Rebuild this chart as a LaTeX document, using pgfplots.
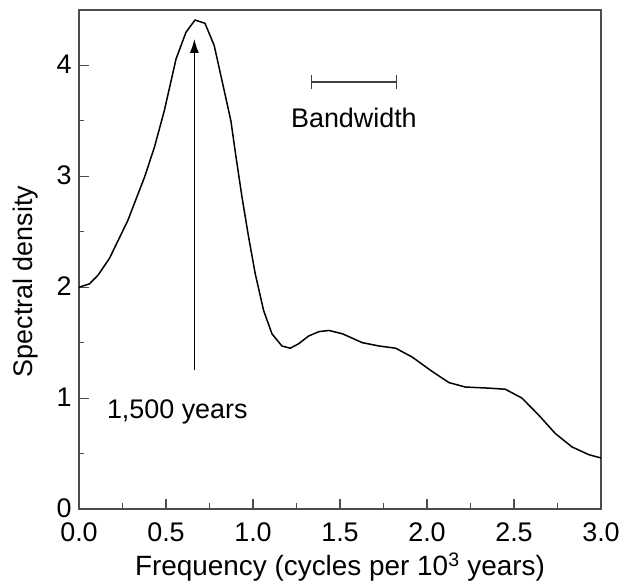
\documentclass[border=0pt]{standalone}
\usepackage{fontspec}
\setmainfont{Liberation Sans}
\usepackage{pgfplots}
\pgfplotsset{compat=1.18}
\usetikzlibrary{arrows.meta}
\begin{document}
\begin{tikzpicture}
\begin{axis}[
  scale only axis,
  width=522bp, height=499bp,
  xmin=0, xmax=3, ymin=0, ymax=4.5,
  xtick={0,0.5,...,3}, ytick={0,1,2,3,4},
  minor x tick num=1, minor y tick num=1,
  tick pos=left, tick align=inside,
  major tick length=10bp, minor tick length=5.5bp,
  every tick/.style={black!70, line width=1.1bp},
  axis line style={black!70, line width=1.1bp},
  font=\fontsize{27}{32}\selectfont,
  /pgf/number format/assume math mode=true,
  xticklabel style={yshift=-10bp, /pgf/number format/.cd, fixed, fixed zerofill, precision=1},
  yticklabel style={xshift=-4bp, yshift=1bp, /pgf/number format/.cd, fixed, precision=0},
  xlabel={Frequency (cycles per 10\textsuperscript{3} years)},
  ylabel={Spectral density},
  xlabel style={font=\fontsize{28}{32}\selectfont, yshift=-4bp},
  ylabel style={at={(ticklabel cs:0.456)}, yshift=12bp},
  clip=false,
]
\addplot[black, line width=1.5bp, line join=round] coordinates {
(0.000,2.00) (0.060,2.03) (0.110,2.11) (0.175,2.26) (0.280,2.60)
(0.376,2.99) (0.433,3.26) (0.490,3.59) (0.558,4.06) (0.615,4.30)
(0.667,4.41) (0.724,4.38) (0.777,4.18) (0.835,3.77) (0.873,3.50)
(0.900,3.20) (0.937,2.81) (0.975,2.45) (1.013,2.12) (1.061,1.79)
(1.109,1.58) (1.166,1.47) (1.214,1.45) (1.262,1.49) (1.320,1.56)
(1.380,1.60) (1.437,1.61) (1.514,1.58) (1.628,1.50) (1.724,1.47)
(1.820,1.45) (1.915,1.37) (2.030,1.24) (2.126,1.14) (2.220,1.10)
(2.355,1.09) (2.450,1.08) (2.546,1.00) (2.640,0.85) (2.738,0.68)
(2.833,0.56) (2.930,0.49) (3.000,0.46)
};
\draw[black, line width=1.5bp, -{Latex[length=14bp,width=9bp]}] (axis cs:0.663,1.25) -- (axis cs:0.663,4.24);
\draw[black!75, line width=1.3bp, {Bar[width=14bp]}-{Bar[width=14bp]}] (axis cs:1.333,3.85) -- (axis cs:1.827,3.85);
\node at (axis cs:1.58,3.53) {Bandwidth};
\node at (axis cs:0.565,0.88) {1,500 years};
\end{axis}
\pgfresetboundingbox
\path[use as bounding box] (-79bp,-74bp) rectangle (546bp,509bp);
\end{tikzpicture}
\end{document}
